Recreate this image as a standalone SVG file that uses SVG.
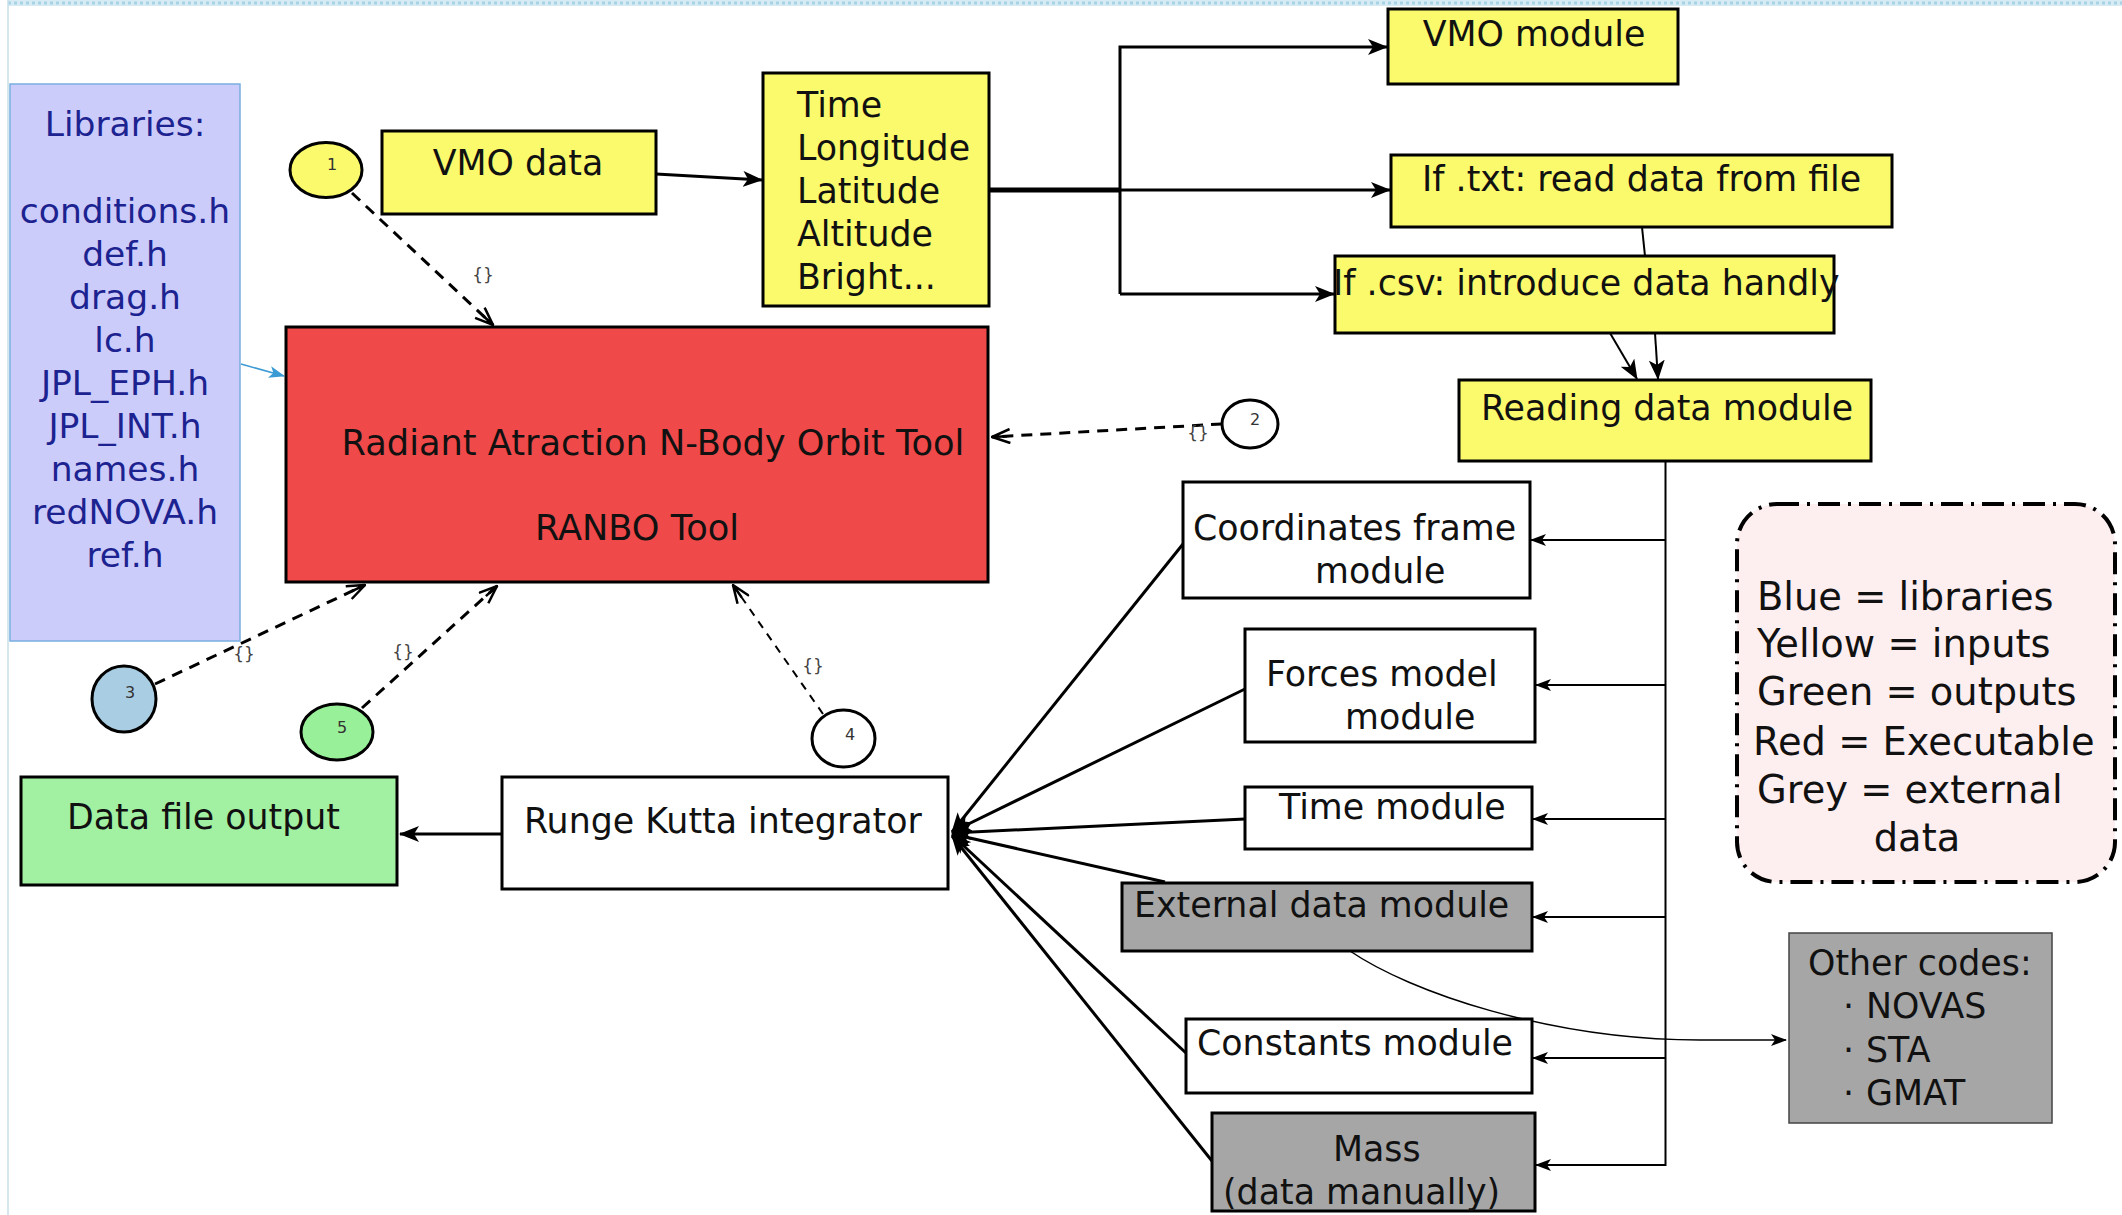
<svg xmlns="http://www.w3.org/2000/svg" width="2122" height="1215" viewBox="0 0 2122 1215">
<defs>
<style>
.t{font-family:"DejaVu Sans","Liberation Sans",sans-serif;font-size:34.8px;fill:#111}
.lib{font-family:"DejaVu Sans","Liberation Sans",sans-serif;font-size:34.5px;fill:#1c2390;text-anchor:middle}
.leg{font-family:"DejaVu Sans","Liberation Sans",sans-serif;font-size:38.4px;fill:#111}
.num{font-family:"DejaVu Sans","Liberation Sans",sans-serif;font-size:16px;fill:#333;text-anchor:middle}
.br{font-family:"DejaVu Sans","Liberation Sans",sans-serif;font-size:17px;fill:#444;text-anchor:middle}
.box{stroke:#000;stroke-width:3}
.yel{fill:#fafa6c}
.wht{fill:#fff}
.gry{fill:#a6a6a6}
.circ{stroke:#000;stroke-width:3}
.solid{fill:none;stroke:#000;stroke-width:3}
.thin{fill:none;stroke:#000;stroke-width:2}
.dash{fill:none;stroke:#000;stroke-width:3;stroke-dasharray:11 8}
</style>
<marker id="af" viewBox="0 0 20 16" refX="19" refY="8" markerWidth="20" markerHeight="16" markerUnits="userSpaceOnUse" orient="auto"><path d="M0,0 L20,8 L0,16 L5,8 z" fill="#000"/></marker>
<marker id="as" viewBox="0 0 16 12" refX="15" refY="6" markerWidth="16" markerHeight="12" markerUnits="userSpaceOnUse" orient="auto"><path d="M0,0 L16,6 L0,12 L4,6 z" fill="#000"/></marker>
<marker id="ao" viewBox="0 0 20 16" refX="19" refY="8" markerWidth="20" markerHeight="16" markerUnits="userSpaceOnUse" orient="auto"><path d="M1,1 L19,8 L1,15 M4,8 L19,8" fill="none" stroke="#000" stroke-width="2.5"/></marker>
<marker id="ab" viewBox="0 0 16 12" refX="15" refY="6" markerWidth="16" markerHeight="12" markerUnits="userSpaceOnUse" orient="auto"><path d="M0,0 L16,6 L0,12 L4,6 z" fill="#3a9ad4"/></marker>
</defs>
<rect width="2122" height="1215" fill="#fff"/>
<g id="page-border">
<rect x="8" y="0" width="2114" height="6" fill="#d6ebf4"/>
<line x1="8" y1="3" x2="2122" y2="3" stroke="#a8d3e6" stroke-width="3" stroke-dasharray="3 3"/>
<line x1="8" y1="0" x2="8" y2="1215" stroke="#c6dfea" stroke-width="1.5"/>
</g>

<g id="connectors">
<line x1="656" y1="174" x2="762" y2="180" class="solid" marker-end="url(#af)"/>
<line x1="988" y1="190" x2="1120" y2="190" stroke="#000" stroke-width="5"/>
<line x1="1120" y1="190" x2="1390" y2="190" class="solid" marker-end="url(#af)"/>
<path d="M1120,294 V47 H1387" class="solid" marker-end="url(#af)"/>
<path d="M1120,294 H1334" class="solid" marker-end="url(#af)"/>
<line x1="1642" y1="227" x2="1645" y2="256" class="thin"/>
<line x1="1610" y1="333" x2="1637" y2="379" class="thin" marker-end="url(#af)"/>
<line x1="1655" y1="333" x2="1658" y2="379" class="thin" marker-end="url(#af)"/>
<line x1="1665.5" y1="461" x2="1665.5" y2="1166" class="thin"/>
<line x1="1665.5" y1="540" x2="1531" y2="540" class="thin" marker-end="url(#as)"/>
<line x1="1665.5" y1="685" x2="1536" y2="685" class="thin" marker-end="url(#as)"/>
<line x1="1665.5" y1="819" x2="1533" y2="819" class="thin" marker-end="url(#as)"/>
<line x1="1665.5" y1="917" x2="1533" y2="917" class="thin" marker-end="url(#as)"/>
<line x1="1665.5" y1="1058" x2="1533" y2="1058" class="thin" marker-end="url(#as)"/>
<line x1="1665.5" y1="1165" x2="1536" y2="1165" class="thin" marker-end="url(#as)"/>
<line x1="1183" y1="544" x2="952" y2="832" class="solid" marker-end="url(#af)"/>
<line x1="1245" y1="689" x2="952" y2="832" class="solid" marker-end="url(#af)"/>
<line x1="1245" y1="819" x2="952" y2="833" class="solid" marker-end="url(#af)"/>
<line x1="1165" y1="882" x2="952" y2="834" class="solid" marker-end="url(#af)"/>
<line x1="1186" y1="1053" x2="952" y2="835" class="solid" marker-end="url(#af)"/>
<line x1="1212" y1="1161" x2="952" y2="836" class="solid" marker-end="url(#af)"/>
<line x1="502" y1="834" x2="400" y2="834" class="solid" marker-end="url(#af)"/>
<line x1="241" y1="364" x2="284" y2="376" stroke="#3a9ad4" stroke-width="1.5" marker-end="url(#ab)"/>
<path d="M1350,951 C1410,992 1550,1040 1700,1040 L1786,1040" fill="none" stroke="#000" stroke-width="1.5" marker-end="url(#as)"/>
<line x1="352" y1="193" x2="493" y2="325" class="dash" marker-end="url(#ao)"/>
<line x1="1222" y1="424" x2="992" y2="437" class="dash" marker-end="url(#ao)"/>
<line x1="155" y1="684" x2="365" y2="585" class="dash" marker-end="url(#ao)"/>
<line x1="362" y1="708" x2="497" y2="586" class="dash" marker-end="url(#ao)"/>
<line x1="823" y1="714" x2="733" y2="585" fill="none" stroke="#000" stroke-width="2" stroke-dasharray="8 7" marker-end="url(#ao)"/>
<text class="br" x="483" y="281">{}</text>
<text class="br" x="1198" y="439">{}</text>
<text class="br" x="244" y="660">{}</text>
<text class="br" x="403" y="658">{}</text>
<text class="br" x="813" y="672">{}</text>
</g>

<g id="libraries">
<rect x="10" y="84" width="230" height="557" fill="#ccccfa" stroke="#7aaee0" stroke-width="1.5"/>
<text class="lib" x="125" y="136">Libraries:</text>
<text class="lib" x="125" y="223">conditions.h</text>
<text class="lib" x="125" y="266">def.h</text>
<text class="lib" x="125" y="309">drag.h</text>
<text class="lib" x="125" y="352">lc.h</text>
<text class="lib" x="125" y="395">JPL_EPH.h</text>
<text class="lib" x="125" y="438">JPL_INT.h</text>
<text class="lib" x="125" y="481">names.h</text>
<text class="lib" x="125" y="524">redNOVA.h</text>
<text class="lib" x="125" y="567">ref.h</text>
</g>

<g id="circle-1">
<ellipse cx="326" cy="170" rx="36" ry="27.5" fill="#fafa6c" class="circ"/>
<text class="num" x="332" y="170">1</text>
</g>
<g id="circle-2">
<ellipse cx="1250" cy="424" rx="28" ry="24" fill="#fff" class="circ"/>
<text class="num" x="1255" y="425">2</text>
</g>
<g id="circle-3">
<ellipse cx="124" cy="699" rx="32" ry="33" fill="#a9cde2" class="circ"/>
<text class="num" x="130" y="698">3</text>
</g>
<g id="circle-4">
<ellipse cx="843.5" cy="738.5" rx="31.5" ry="28.5" fill="#fff" class="circ"/>
<text class="num" x="850" y="740">4</text>
</g>
<g id="circle-5">
<ellipse cx="337" cy="732" rx="36" ry="28" fill="#98f098" class="circ"/>
<text class="num" x="342" y="733">5</text>
</g>

<g id="vmo-data">
<rect x="382" y="131" width="274" height="83" class="box yel"/>
<text class="t" x="518" y="175" text-anchor="middle">VMO data</text>
</g>
<g id="fields">
<rect x="763" y="73" width="226" height="233" class="box yel"/>
<text class="t" x="797" y="117">Time</text>
<text class="t" x="797" y="160">Longitude</text>
<text class="t" x="797" y="203">Latitude</text>
<text class="t" x="797" y="246">Altitude</text>
<text class="t" x="797" y="289">Bright...</text>
</g>
<g id="ranbo">
<rect x="286" y="327" width="702" height="255" fill="#ef4949" class="box"/>
<text class="t" x="653" y="455" text-anchor="middle" fill="#2a1212" style="font-size:35.2px">Radiant Atraction N-Body Orbit Tool</text>
<text class="t" x="637" y="540" text-anchor="middle" fill="#2a1212" style="font-size:35.2px">RANBO Tool</text>
</g>
<g id="vmo-module">
<rect x="1388" y="9" width="290" height="75" class="box yel"/>
<text class="t" x="1534" y="46" text-anchor="middle">VMO module</text>
</g>
<g id="txt">
<rect x="1391" y="155" width="501" height="72" class="box yel"/>
<text class="t" x="1422" y="191">If .txt: read data from file</text>
</g>
<g id="csv">
<rect x="1335" y="256" width="499" height="77" class="box yel"/>
<text class="t" x="1333" y="295">If .csv: introduce data handly</text>
</g>
<g id="reading">
<rect x="1459" y="380" width="412" height="81" class="box yel"/>
<text class="t" x="1481" y="420">Reading data module</text>
</g>
<g id="coordinates">
<rect x="1183" y="482" width="347" height="116" class="box wht"/>
<text class="t" x="1193" y="540">Coordinates frame</text>
<text class="t" x="1315" y="583">module</text>
</g>
<g id="forces">
<rect x="1245" y="629" width="290" height="113" class="box wht"/>
<text class="t" x="1266" y="686">Forces model</text>
<text class="t" x="1345" y="729">module</text>
</g>
<g id="time-module">
<rect x="1245" y="787" width="287" height="62" class="box wht"/>
<text class="t" x="1279" y="819">Time module</text>
</g>
<g id="external">
<rect x="1122" y="883" width="410" height="68" class="box gry"/>
<text class="t" x="1134" y="917">External data module</text>
</g>
<g id="constants">
<rect x="1186" y="1019" width="346" height="74" class="box wht"/>
<text class="t" x="1197" y="1055">Constants module</text>
</g>
<g id="mass">
<rect x="1212" y="1113" width="323" height="98" class="box gry"/>
<text class="t" x="1333" y="1161">Mass</text>
<text class="t" x="1223" y="1204">(data manually)</text>
</g>
<g id="other-codes">
<rect x="1789" y="933" width="263" height="190" fill="#a6a6a6" stroke="#444" stroke-width="1.5"/>
<text class="t" x="1808" y="975">Other codes:</text>
<text class="t" x="1843" y="1018">·<tspan x="1866">NOVAS</tspan></text>
<text class="t" x="1843" y="1062">·<tspan x="1866">STA</tspan></text>
<text class="t" x="1843" y="1105">·<tspan x="1866">GMAT</tspan></text>
</g>
<g id="runge-kutta">
<rect x="502" y="777" width="446" height="112" class="box wht"/>
<text class="t" x="524" y="833">Runge Kutta integrator</text>
</g>
<g id="data-output">
<rect x="21" y="777" width="376" height="108" fill="#a2f0a2" class="box"/>
<text class="t" x="67" y="829">Data file output</text>
</g>
<g id="legend">
<rect x="1737" y="504" width="378" height="378" rx="40" ry="40" fill="#fdeef0" stroke="#000" stroke-width="4" stroke-dasharray="22 8 3 8"/>
<text class="leg" x="1757" y="610">Blue = libraries</text>
<text class="leg" x="1757" y="657">Yellow = inputs</text>
<text class="leg" x="1757" y="705">Green  = outputs</text>
<text class="leg" x="1753" y="755">Red = Executable</text>
<text class="leg" x="1757" y="803">Grey = external</text>
<text class="leg" x="1917" y="851" text-anchor="middle">data</text>
</g>
</svg>
